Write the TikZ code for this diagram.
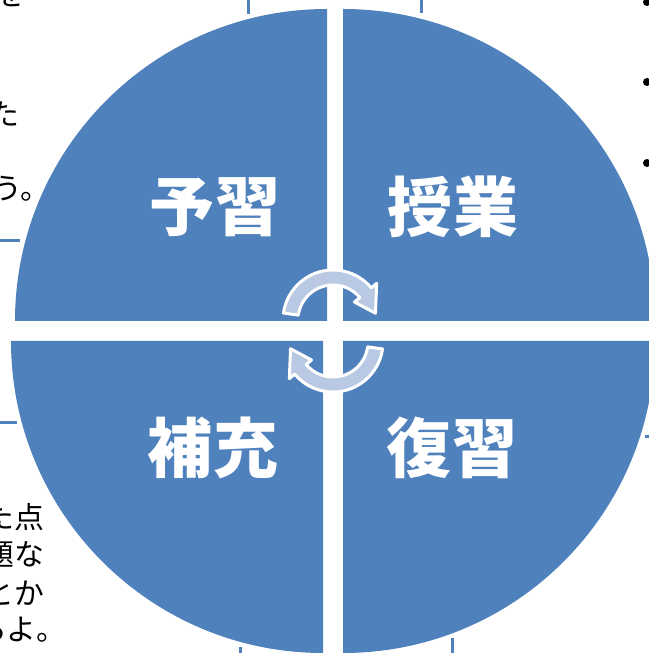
\documentclass[tikz,border=0pt]{standalone}
\usepackage{fontspec}
\newfontfamily\jp{Noto Sans CJK JP}
\definecolor{pieblue}{HTML}{4F81BD}
\definecolor{arrowblue}{HTML}{B9C9E3}
\tikzset{
  quadlabel/.style={text=white, inner sep=0pt, font=\jp\bfseries\fontsize{37}{37}\selectfont},
  note/.style={anchor=east, inner sep=0pt, font=\jp\fontsize{17}{17}\selectfont},
  edgeline/.style={draw=pieblue, line width=0.06cm},
  cyclearrow/.style={fill=arrowblue, draw=white, line width=0.06cm, line join=round}
}
\begin{document}
\begin{tikzpicture}[x=0.02cm,y=0.02cm]
	\useasboundingbox (0,0) rectangle (649,653);
	\clip (0,0) rectangle (649,653);
	% text and lines around the circle
	\node[note] (notea) at (26,659) {を};
	\node[note] (noteb) at (20,539) {た};
	\node[note] (notec) at (51,464) {う。};
	\node[note] (noted) at (45,136) {た点};
	\node[note] (notee) at (45,98) {題な};
	\node[note] (notef) at (45,60) {とか};
	\node[note] (noteg) at (67,23) {るよ。};
	\foreach \y in {2,82,163}
	{
		\fill (647,653-\y) circle (4);
	}
	\draw[edgeline] (0,412) -- (20,412);
	\draw[edgeline] (0,230) -- (17,230);
	\draw[edgeline] (248,653) -- (248,639);
	\draw[edgeline] (421,653) -- (421,640);
	\draw[edgeline] (240,0) -- (240,6);
	\draw[edgeline] (452,0) -- (452,15);
	\draw[edgeline] (645,216) -- (649,216);
	% the four quarters
	\fill[pieblue] (327,332) -- ++(0,312) arc[start angle=90,end angle=180,radius=312] -- cycle;
	\fill[pieblue] (343,332) -- ++(312,0) arc[start angle=0,end angle=90,radius=312] -- cycle;
	\fill[pieblue] (323,312) -- ++(-312,0) arc[start angle=180,end angle=270,radius=312] -- cycle;
	\fill[pieblue] (343,312) -- ++(0,-312) arc[start angle=270,end angle=360,radius=312] -- cycle;
	\node[quadlabel] (yoshu) at (215,446) {予習};
	\node[quadlabel] (jugyo) at (453,446) {授業};
	\node[quadlabel] (hoju) at (213,205) {補充};
	\node[quadlabel] (fukushu) at (452,205) {復習};
	% turning arrows
	\foreach \cy/\rot in {333/0,311/180}
	{
		\begin{scope}[shift={(333,\cy)}, rotate=\rot]
			\filldraw[cyclearrow] (172:35) arc[start angle=172,end angle=40,radius=35]
				-- (40:28) -- (9:43) -- (40:57) -- (40:50)
				arc[start angle=40,end angle=172,radius=50] -- cycle;
		\end{scope}
	}
\end{tikzpicture}
\end{document}
